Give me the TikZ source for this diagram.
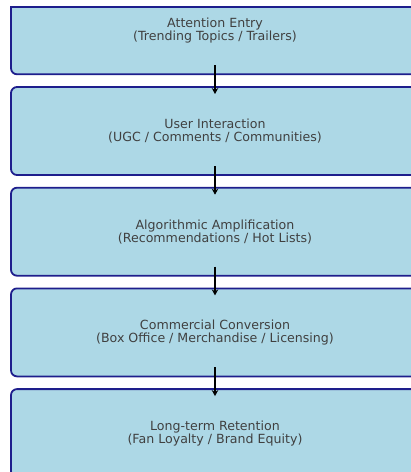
\documentclass[tikz,border=0pt]{standalone}
\usepackage{fontspec}
\setmainfont{DejaVu Sans}
\usetikzlibrary{arrows.meta}
\definecolor{boxfill}{RGB}{173,216,230}
\definecolor{boxline}{RGB}{30,30,140}
\definecolor{txt}{RGB}{64,64,64}
\tikzset{
  stage/.style={draw=boxline, fill=boxfill, line width=1.8pt, rounded corners=6pt,
    minimum width=408pt, minimum height=88pt, inner sep=0pt, outer sep=0pt,
    align=center, text=txt, font=\fontsize{12.6}{13}\selectfont},
  flow/.style={line width=1.8pt, black, -{Stealth[length=6pt,width=6.5pt]}}
}
\begin{document}
\begin{tikzpicture}[x=1pt,y=1pt]
\useasboundingbox (0,0) rectangle (411,-472);
\clip (0,0) rectangle (411,-472);
\begin{scope}
\clip (0,-6.2) rectangle (411,-472);
\node[stage] (b1) at (215,-30.3) {Attention Entry\\(Trending Topics / Trailers)};
\end{scope}
\draw[boxline, line width=1.8pt] (11,-7) -- (411,-7);
\node[stage] (b2) at (215,-131) {User Interaction\\(UGC / Comments / Communities)};
\node[stage] (b3) at (215,-231.7) {Algorithmic Amplification\\(Recommendations / Hot Lists)};
\node[stage] (b4) at (215,-332.4) {Commercial Conversion\\(Box Office / Merchandise / Licensing)};
\node[stage] (b5) at (215,-433.1) {Long-term Retention\\(Fan Loyalty / Brand Equity)};
\draw[flow] ([yshift=9pt]b1.south) -- ([yshift=-7pt]b2.north);
\draw[flow] ([yshift=9pt]b2.south) -- ([yshift=-7pt]b3.north);
\draw[flow] ([yshift=9pt]b3.south) -- ([yshift=-7pt]b4.north);
\draw[flow] ([yshift=9pt]b4.south) -- ([yshift=-7pt]b5.north);
\end{tikzpicture}
\end{document}
